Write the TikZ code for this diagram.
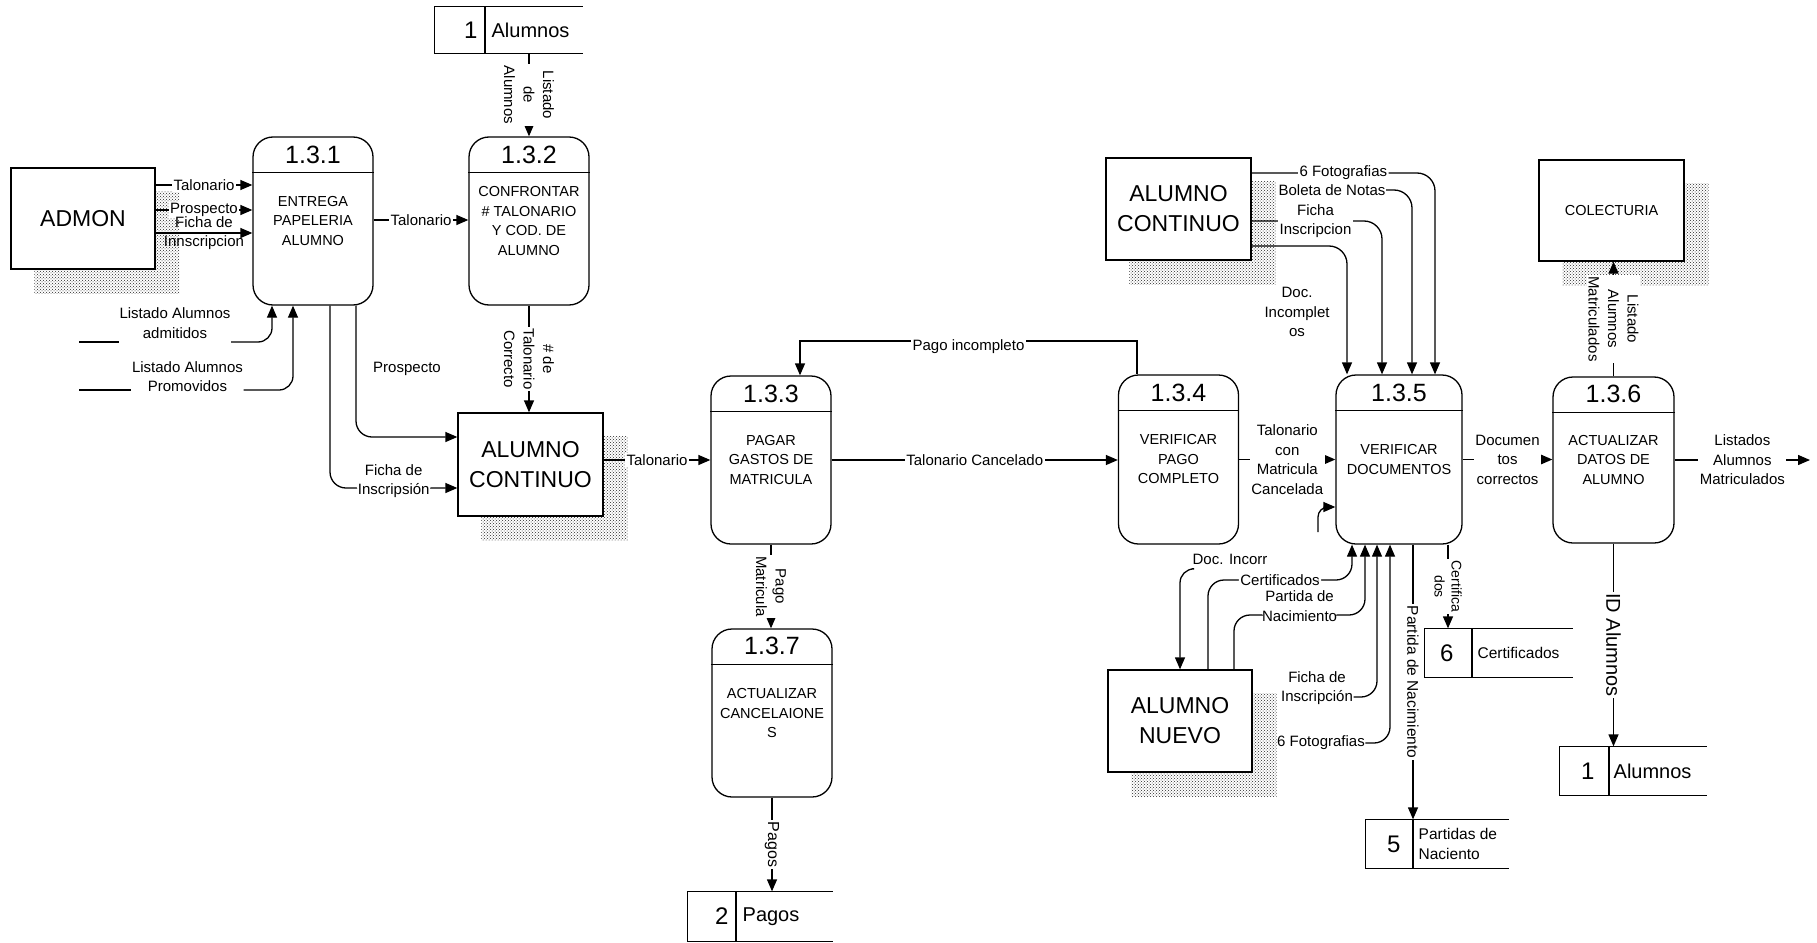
\documentclass[tikz,border=0pt]{standalone}
\usepackage{fontspec}
\setmainfont{Liberation Sans}
\usetikzlibrary{arrows.meta,patterns,backgrounds}

\begin{document}
\begin{tikzpicture}[x=1pt,y=-1pt,
  line width=1.3pt,
  flow/.style={-{Triangle[length=12pt,width=10pt]}},
  proc/.style={draw, fill=white, rounded corners=20pt, minimum width=120pt, minimum height=168pt, inner sep=0pt},
  ent/.style={draw, fill=white, minimum width=145pt, minimum height=102pt, inner sep=0pt, align=center, font=\fontsize{23}{30}\selectfont},
  pnum/.style={font=\fontsize{25}{30}\selectfont, inner sep=0pt},
  ptxt/.style={font=\fontsize{14.5}{19.5}\selectfont, align=center, inner sep=0pt},
  lbl/.style={font=\fontsize{15}{19.5}\selectfont, align=center, fill=white, inner sep=1.5pt},
  vlbl/.style={lbl, rotate=-90},
  storebox/.style={minimum height=47pt, inner sep=0pt},
  snum/.style={font=\fontsize{24}{28}\selectfont, inner sep=0pt, anchor=east},
  sname/.style={font=\fontsize{20}{24}\selectfont, inner sep=0pt, anchor=west, align=left},
  snamesm/.style={font=\fontsize{15.5}{19.5}\selectfont, inner sep=0pt, anchor=west, align=left},
  shade/.style={pattern=crosshatch dots, pattern color=black!85, draw=none},
]
\useasboundingbox (0,0) rectangle (1817,942);

% ---------- processes ----------
\node[proc] (p131) at (313,221) {};
\node[proc] (p132) at (529,221) {};
\node[proc] (p133) at (771,460) {};
\node[proc, minimum height=169pt] (p134) at (1178.5,459.5) {};
\node[proc, minimum width=126pt, minimum height=169pt] (p135) at (1399,459.5) {};
\node[proc, minimum width=121pt, minimum height=166pt] (p136) at (1613.5,460) {};
\node[proc] (p137) at (772,713) {};

\foreach \p in {p131,p132,p133,p134,p135,p136,p137}
  \draw ([yshift=-36pt]\p.north west) -- ([yshift=-36pt]\p.north east);

\node[pnum] (p131n) at ([yshift=-19pt]p131.north) {1.3.1};
\node[pnum] (p132n) at ([yshift=-19pt]p132.north) {1.3.2};
\node[pnum] (p133n) at ([yshift=-19pt]p133.north) {1.3.3};
\node[pnum] (p134n) at ([yshift=-19pt]p134.north) {1.3.4};
\node[pnum] (p135n) at ([yshift=-19pt]p135.north) {1.3.5};
\node[pnum] (p136n) at ([yshift=-18pt]p136.north) {1.3.6};
\node[pnum] (p137n) at ([yshift=-18pt]p137.north) {1.3.7};

\node[ptxt] (p131t) at (p131.center) {ENTREGA\\PAPELERIA\\ALUMNO};
\node[ptxt] (p132t) at (p132.center) {CONFRONTAR\\\# TALONARIO\\Y COD. DE\\ALUMNO};
\node[ptxt] (p133t) at (p133.center) {PAGAR\\GASTOS DE\\MATRICULA};
\node[ptxt] (p134t) at (p134.center) {VERIFICAR\\PAGO\\COMPLETO};
\node[ptxt] (p135t) at (p135.center) {VERIFICAR\\DOCUMENTOS};
\node[ptxt] (p136t) at (p136.center) {ACTUALIZAR\\DATOS DE\\ALUMNO};
\node[ptxt] (p137t) at (p137.center) {ACTUALIZAR\\CANCELAIONE\\S};

% ---------- external entities ----------
\node[ent, minimum width=144pt, minimum height=101pt] (admon) at (83,218.5) {ADMON};
\node[ent, minimum height=103pt] (ac1) at (530.5,464.5) {ALUMNO\\CONTINUO};
\node[ent] (ac2) at (1178.5,209) {ALUMNO\\CONTINUO};
\node[ent, minimum width=144pt] (an) at (1180,721) {ALUMNO\\NUEVO};
\node[ent, minimum height=101pt, font=\fontsize{14.5}{18}\selectfont] (colect) at (1611.5,210.5) {COLECTURIA};

\begin{scope}[on background layer]
  \fill[white] (0,0) rectangle (1817,942);
  \foreach \e in {admon,ac1,ac2,an,colect}
    \fill[shade] ([shift={(24,24)}]\e.north west) rectangle ([shift={(24,24)}]\e.south east);
\end{scope}

% ---------- data stores ----------
\node[storebox, minimum width=147pt, minimum height=46pt] (st1a) at (508.5,30) {};
\node[storebox, minimum width=144pt, minimum height=49pt] (st2) at (760,916.5) {};
\node[storebox, minimum width=142pt, minimum height=48pt] (st5) at (1437,844) {};
\node[storebox, minimum width=147pt, minimum height=48pt] (st6) at (1498.5,653) {};
\node[storebox, minimum width=146pt, minimum height=48pt] (st1b) at (1633,771) {};

\foreach \s/\d in {st1a/485,st2/736,st5/1413,st6/1472,st1b/1609} {
  \draw (\s.north east) -- (\s.north west) -- (\s.south west) -- (\s.south east);
  \draw (\s.north west -| \d,0) -- (\s.south west -| \d,0);
}

\node[snum] (st1ad) at (478,30) {1};
\node[sname] (st1at) at (491,30) {Alumnos};
\node[snum] (st2d) at (729,916.5) {2};
\node[sname] (st2t) at (742,916.5) {Pagos};
\node[snum] (st5d) at (1401,844) {5};
\node[snamesm] (st5t) at (1418,844) {Partidas de\\Naciento};
\node[snum] (st6d) at (1454,653) {6};
\node[snamesm] (st6t) at (1477,653) {Certificados};
\node[snum] (st1bd) at (1595,771) {1};
\node[sname] (st1bt) at (1613,771) {Alumnos};

% ---------- flows around 1.3.1 and 1.3.2 ----------
\draw[flow] (admon.east |- 0,185) -- node[lbl] (fa1) {Talonario} (p131.west |- 0,185);
\draw[flow] (admon.east |- 0,210) -- node[lbl] (fa2) {Prospecto} (p131.west |- 0,210);
\draw[flow] (admon.east |- 0,233) -- node[lbl, fill=none, inner sep=0pt] (fa3) {Ficha de\\Innscripcion} (p131.west |- 0,233);

\draw[flow] (p131.east |- 0,220) -- node[lbl] (f2) {Talonario} (p132.west |- 0,220);
\draw[flow] (st1a.south -| p132.north) -- node[vlbl] (f3) {Listado\\de\\Alumnos} (p132.north);
\draw[flow] (p132.south) -- node[vlbl] (f4) {\# de\\Talonario\\Correcto} (ac1.north -| p132.south);

\draw[flow, rounded corners=16pt] ([xshift=43pt]p131.south) |- (ac1.west |- 0,437);
\node[lbl, fill=none, inner sep=0pt] (f5) at (407,369) {Prospecto};
\draw[flow, rounded corners=16pt] ([xshift=17pt]p131.south) |- node[lbl, pos=0.75, yshift=7pt] (f6) {Ficha de\\Inscripsión} (ac1.west |- 0,488);

\node[lbl, fill=none, inner sep=0pt] (lAdm) at (175,323) {Listado Alumnos\\admitidos};
\coordinate (adm0) at (79,342);
\draw (adm0) -- (adm0 -| lAdm.west);
\draw[flow, rounded corners=14pt] (lAdm.east |- adm0) -| ([xshift=-41pt]p131.south);

\node[lbl, fill=none, inner sep=0pt] (lPro) at (187.5,376.5) {Listado Alumnos\\Promovidos};
\coordinate (pro0) at (79,390);
\draw (pro0) -- (pro0 -| lPro.west);
\draw[flow, rounded corners=14pt] (lPro.east |- pro0) -| ([xshift=-20pt]p131.south);

% ---------- payment ----------
\draw[flow] (ac1.east |- p133.west) -- node[lbl] (f7) {Talonario} (p133.west);
\draw[flow] (p133.east) -- node[lbl] (f8) {Talonario Cancelado} (p134.west |- p133.east);
\draw[flow] ([xshift=-41.5pt]p134.north) |- node[lbl, pos=0.75, yshift=-6pt] (f9) {Pago incompleto} (800,341) -- ([xshift=29pt]p133.north);
\draw[flow] (p133.south) -- node[vlbl] (f10) {Pago\\Matricula} (p137.north -| p133.south);
\draw[flow] (p137.south) -- node[vlbl, font=\fontsize{16}{19.5}\selectfont] (f11) {Pagos} (st2.north -| p137.south);

% ---------- documents ----------
\draw[flow] (p134.east) -- node[lbl] (f12) {Talonario\\con\\Matricula\\Cancelada} (p135.west);
\coordinate (stub) at (1318,532);
\draw[flow, rounded corners=10pt] (stub) |- (p135.west |- 0,507);

\draw[flow, rounded corners=18pt] (ac2.east |- 0,173) -| node[lbl, pos=0.25] (f13) {6 Fotografias} ([xshift=36pt]p135.north);
\node[lbl, fill=none, inner sep=0pt] (lBol) at (1332,190) {Boleta de Notas};
\draw[flow, rounded corners=18pt] (lBol.east) -| ([xshift=13pt]p135.north);
\draw[flow, rounded corners=18pt] (ac2.east |- 0,221) -| node[lbl, pos=0.245] (f14) {Ficha\\Inscripcion} ([xshift=-17pt]p135.north);
\draw[flow, rounded corners=18pt] (ac2.east |- 0,246) -| ([xshift=-52pt]p135.north);
\node[lbl, fill=none, inner sep=0pt] (lDocInc) at (1297,312) {Doc.\\Incomplet\\os};

\draw[flow, rounded corners=16pt] ([xshift=28pt]an.north) |- node[lbl, pos=0.75] (f15) {Certificados} (1352,580) -- ([xshift=-47pt]p135.south);
\draw[flow, rounded corners=16pt] ([xshift=54pt]an.north) |- node[lbl, pos=0.75, yshift=9pt] (f16) {Partida de\\Nacimiento} (1365,615) -- ([xshift=-34pt]p135.south);
\node[lbl, fill=none, inner sep=0pt] (lFic) at (1317,688) {Ficha de\\Inscripción};
\draw[flow, rounded corners=16pt] ([yshift=-9pt]lFic.east) -| ([xshift=-22pt]p135.south);
\node[lbl, fill=none, inner sep=0pt] (lFot) at (1321,743) {6 Fotografias};
\draw[flow, rounded corners=16pt] (lFot.east) -| ([xshift=-9pt]p135.south);

\node[lbl, fill=none, inner sep=0pt] (lDocI) at (1230,559) {Doc. Incorr};
\draw[flow, rounded corners=14pt] ([yshift=-4pt]lDocI.south west) -| (an.north);

\coordinate (p135pn) at ([xshift=14pt]p135.south);
\draw[flow] (p135pn) -- node[vlbl, font=\fontsize{15.5}{19.5}\selectfont] (f17) {Partida de Nacimiento} (st5.north -| p135pn);
\coordinate (p135ce) at ([xshift=49pt]p135.south);
\draw[flow] (p135ce) -- node[vlbl, font=\fontsize{14}{17}\selectfont] (f18) {Certifica\\dos} (st6.north -| p135ce);

% ---------- student data update ----------
\draw[flow] (p135.east) -- node[lbl] (f19) {Documen\\tos\\correctos} (p136.west |- p135.east);
\draw[flow] (p136.north) -- node[vlbl] (f20) {Listado\\Alumnos\\Matriculados} (colect.south -| p136.north);
\coordinate (out) at (1810,460);
\draw[flow] (p136.east) -- node[lbl] (f21) {Listados\\Alumnos\\Matriculados} (out);
\draw[flow] (p136.south) -- node[vlbl, font=\fontsize{20}{24}\selectfont] (f22) {ID Alumnos} (st1b.north -| p136.south);

\end{tikzpicture}
\end{document}
